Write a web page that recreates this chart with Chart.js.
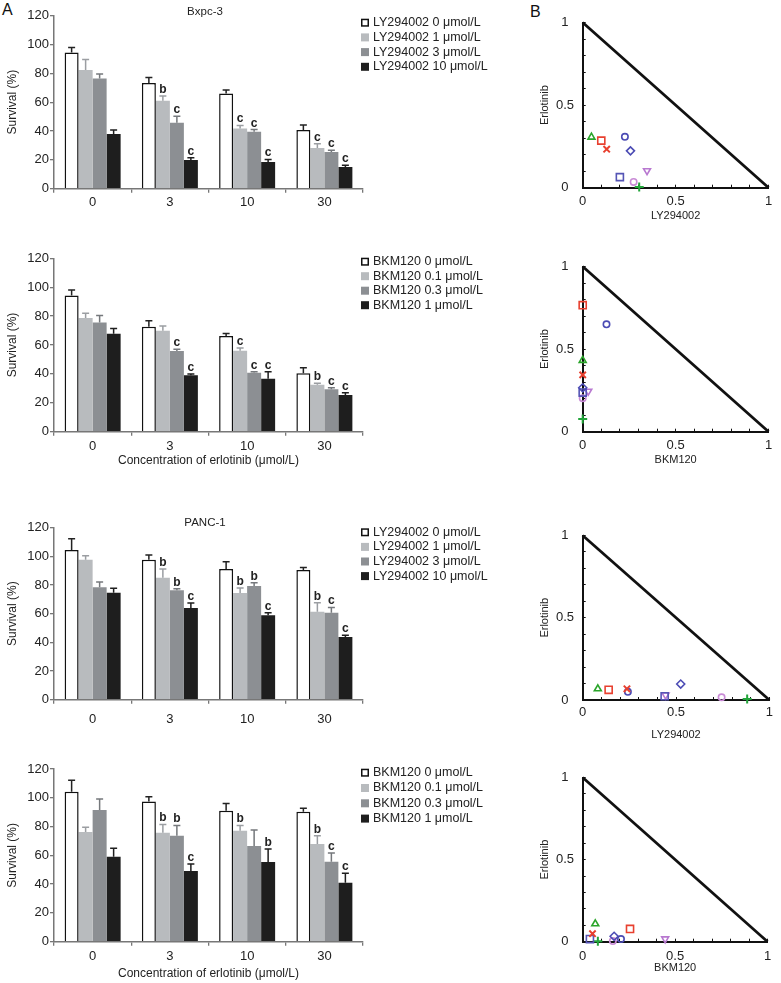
<!DOCTYPE html>
<html>
<head>
<meta charset="utf-8">
<title>Survival bars and isobolograms</title>
<script src="https://cdn.jsdelivr.net/npm/chart.js"></script>
<style>
  body { margin:0; background:#fff; width:781px; height:983px; position:relative; overflow:hidden;
         font-family:"Liberation Sans", Arial, sans-serif; }
  canvas { position:absolute; }
  .panel { position:absolute; font-size:16px; line-height:16px; color:#111; }
</style>
</head>
<body>
<div class="panel" style="left:2px;top:2px">A</div>
<div class="panel" style="left:530px;top:4px">B</div>
<script>
// --- DATA ---
const doses = ['0', '3', '10', '30'];   // erlotinib, μmol/L
const lyLabels = ['LY294002 0 μmol/L', 'LY294002 1 μmol/L', 'LY294002 3 μmol/L', 'LY294002 10 μmol/L'];
const bkmLabels = ['BKM120 0 μmol/L', 'BKM120 0.1 μmol/L', 'BKM120 0.3 μmol/L', 'BKM120 1 μmol/L'];

// survival (%), one row per inhibitor dose, columns follow doses
const bxpcLyMean = [[94.5, 73.3, 66.1, 40.7], [82.3, 61, 41.8, 28.2], [76.5, 45.8, 39.5, 25.4], [37.9, 19.9, 18.5, 15]];
const bxpcLyErr  = [[3.5, 3.9, 2.3, 3.5], [7.4, 3.3, 2.1, 3.0], [3.0, 4.4, 1.5, 1.2], [2.8, 1.6, 1.8, 1.2]];
const bxpcLySig  = [['', '', '', ''], ['', 'b', 'c', 'c'], ['', 'c', 'c', 'c'], ['', 'c', 'c', 'c']];

const bxpcBkmMean = [[94.2, 72.7, 66.2, 40.4], [78.7, 69.9, 56, 32.5], [75.5, 55.8, 40.8, 29.3], [67.8, 39, 36.7, 25.4]];
const bxpcBkmErr  = [[3.8, 4.1, 1.8, 3.9], [3.2, 3.3, 2, 1], [5, 1.2, 0.7, 1.2], [3.7, 1, 4.8, 1.6]];
const bxpcBkmSig  = [['', '', '', ''], ['', '', 'c', 'b'], ['', 'c', 'c', 'c'], ['', 'c', 'c', 'c']];

const pancLyMean = [[104.4, 97.7, 91.2, 90.5], [97.7, 85.1, 74.4, 61.4], [78.4, 76.3, 79.3, 60.7], [74.7, 64, 59, 43.7]];
const pancLyErr  = [[7.9, 3.2, 5.1, 1.8], [2.8, 6.1, 3.5, 6.3], [3.7, 1.1, 2.3, 3.7], [3, 3.4, 1.7, 1.2]];
const pancLySig  = [['', '', '', ''], ['', 'b', 'b', 'b'], ['', 'b', 'b', 'c'], ['', 'c', 'c', 'c']];

const pancBkmMean = [[104.2, 97.5, 91, 90.3], [76.2, 75.7, 77.1, 67.9], [91.5, 73.7, 66.5, 55.6], [59.1, 49.1, 55.4, 41]];
const pancBkmErr  = [[7.9, 3.3, 5.1, 2.4], [3.3, 5.8, 3.7, 5.8], [7.6, 7.1, 11.1, 6], [5.8, 4.9, 9, 6.5]];
const pancBkmSig  = [['', '', '', ''], ['', 'b', 'b', 'b'], ['', 'b', '', 'c'], ['', 'c', 'b', 'c']];

// isobolograms: one point per marker, same marker order in every panel
const isoStyles   = ['triangle', 'rect', 'crossRot', 'circle', 'rectRot', 'rect', 'circle', 'cross', 'triangle'];
const isoColors   = ['#2aa52a', '#e8402f', '#e8402f', '#4b4bb4', '#4b4bb4', '#5555b5', '#c98bd6', '#22a53a', '#b878d0'];
const isoRadius   = [4, 5, 4.5, 3.2, 4, 5, 3.2, 4.5, 4];
const isoRotation = [0, 0, 0, 0, 0, 0, 0, 0, 180];

const bxpcLyX  = [0.047, 0.10, 0.129, 0.227, 0.257, 0.20, 0.274, 0.304, 0.346];
const bxpcLyY  = [0.306, 0.285, 0.233, 0.308, 0.223, 0.064, 0.035, 0.004, 0.103];
const bxpcBkmX = [0, 0, 0, 0.128, 0, 0, 0, 0, 0.03];
const bxpcBkmY = [0.432, 0.766, 0.344, 0.65, 0.266, 0.237, 0.203, 0.077, 0.245];
const pancLyX  = [0.081, 0.139, 0.237, 0.242, 0.525, 0.439, 0.744, 0.881, 0.444];
const pancLyY  = [0.068, 0.062, 0.068, 0.05, 0.097, 0.023, 0.016, 0.006, 0.03];
const pancBkmX = [0.068, 0.256, 0.053, 0.207, 0.17, 0.039, 0.163, 0.082, 0.446];
const pancBkmY = [0.109, 0.078, 0.049, 0.016, 0.033, 0.016, 0.004, 0.002, 0.017];

const additivityX = [0, 1];
const additivityY = [1, 0];

// --- STYLE ---
Chart.defaults.font.family = '"Liberation Sans", Arial, sans-serif';
Chart.defaults.color = '#222';
Chart.defaults.animation = false;
Chart.defaults.plugins.legend.display = false;
Chart.defaults.plugins.tooltip.enabled = false;

const barFills = ['#ffffff', '#b8bbbe', '#8c8f93', '#1e1e1e'];
const errColors = ['#222222', '#9b9ea2', '#75787c', '#1e1e1e'];

function addCanvas(left, top, w, h) {
  const c = document.createElement('canvas');
  c.width = w; c.height = Math.ceil(h);
  c.style.left = left + 'px'; c.style.top = top + 'px';
  document.body.appendChild(c);
  return c;
}

// error bars, significance letters, legend and panel title
const barExtras = {
  id: 'barExtras',
  afterDatasetsDraw(chart, args, o) {
    const ctx = chart.ctx, y = chart.scales.y;
    ctx.save();
    chart.data.datasets.forEach((ds, i) => {
      chart.getDatasetMeta(i).data.forEach((bar, j) => {
        const top = y.getPixelForValue(ds.data[j] + o.err[i][j]);
        ctx.strokeStyle = errColors[i];
        ctx.lineWidth = 1.5;
        ctx.beginPath();
        ctx.moveTo(bar.x, bar.y); ctx.lineTo(bar.x, top);
        ctx.moveTo(bar.x - 3.5, top); ctx.lineTo(bar.x + 3.5, top);
        ctx.stroke();
        if (o.sig[i][j]) {
          ctx.fillStyle = '#222';
          ctx.font = 'bold 12px "Liberation Sans", Arial, sans-serif';
          ctx.textAlign = 'center';
          ctx.textBaseline = 'alphabetic';
          ctx.fillText(o.sig[i][j], bar.x, top - 3);
        }
      });
    });
    // legend
    ctx.font = '12.5px "Liberation Sans", Arial, sans-serif';
    ctx.textAlign = 'left';
    ctx.textBaseline = 'middle';
    chart.data.datasets.forEach((ds, i) => {
      const cy = o.legendY + i * o.legendStep;
      ctx.fillStyle = ds.backgroundColor;
      ctx.fillRect(361, cy - 4, 8, 8);
      if (i === 0) { ctx.strokeStyle = '#111'; ctx.lineWidth = 1.5; ctx.strokeRect(361.75, cy - 3.25, 6.5, 6.5); }
      ctx.fillStyle = '#222';
      ctx.fillText(ds.label, 373, cy);
    });
    if (o.title) {
      ctx.font = '11.5px "Liberation Sans", Arial, sans-serif';
      ctx.textAlign = 'center';
      ctx.fillText(o.title, 205, o.titleY);
    }
    ctx.restore();
  }
};

function makeBar(f, labels, mean, err, sig) {
  const axisH = 40;
  const h = f.areaBottom - f.top + axisH;
  const canvas = addCanvas(0, f.top, 520, h);
  const padBottom = canvas.height - h;
  new Chart(canvas, {
    type: 'bar',
    data: {
      labels: doses,
      datasets: labels.map((lab, i) => ({
        label: lab,
        data: mean[i],
        backgroundColor: barFills[i],
        borderColor: '#111',
        borderWidth: i === 0 ? 1.5 : 0,
        categoryPercentage: 0.725,
        barPercentage: 1
      }))
    },
    options: {
      responsive: false,
      devicePixelRatio: 1,
      layout: { padding: { left: 0, right: 157, top: f.areaTop - f.top, bottom: padBottom } },
      scales: {
        x: {
          afterFit: s => { s.height = axisH; },
          border: { color: '#777', width: 1.5 },
          grid: { drawOnChartArea: false, offset: true, tickLength: 4, color: '#777', lineWidth: 1.3 },
          ticks: { font: { size: 13 }, padding: f.tickPad, maxRotation: 0 },
          title: { display: !!f.xTitle, text: f.xTitle || '', font: { size: 12 },
                   padding: { top: 0, bottom: axisH - 7.2 - (f.xTitleGap || 0) } }
        },
        y: {
          min: 0, max: 120,
          afterFit: s => { s.width = 54; },
          border: { color: '#777', width: 1.5 },
          grid: { drawOnChartArea: false, tickLength: 4, color: '#777', lineWidth: 1.3 },
          ticks: { stepSize: 20, font: { size: 13 }, padding: 1 },
          title: { display: true, text: 'Survival (%)', font: { size: 12 }, padding: { top: 5.8, bottom: 0 } }
        }
      },
      plugins: {
        barExtras: { err: err, sig: sig, title: f.title, titleY: f.titleY - f.top,
                     legendY: f.legendY - f.top, legendStep: f.legendStep }
      }
    },
    plugins: [barExtras]
  });
}

function isoTick(v) {
  if (Math.abs(v) < 1e-6) return '0';
  if (Math.abs(v - 0.5) < 1e-6) return '0.5';
  if (Math.abs(v - 1) < 1e-6) return '1';
  return '';
}

function makeIso(f, xTitle, xs, ys) {
  const axisH = 44;
  const h = f.areaBottom - f.top + axisH;
  const canvas = addCanvas(520, f.top, 261, h);
  const padBottom = canvas.height - h;
  const sets = isoStyles.map((st, k) => ({
    type: 'scatter',
    data: [{ x: xs[k], y: ys[k] }],
    pointStyle: st,
    pointRadius: isoRadius[k],
    pointRotation: isoRotation[k],
    pointBorderColor: isoColors[k],
    pointBackgroundColor: 'rgba(0,0,0,0)',
    pointBorderWidth: st === 'cross' || st === 'crossRot' ? 2 : 1.6,
    clip: false
  }));
  sets.push({
    type: 'line',
    data: additivityX.map((x, i) => ({ x: x, y: additivityY[i] })),
    borderColor: '#111', borderWidth: 2.8, pointRadius: 0, order: 10, clip: false
  });
  new Chart(canvas, {
    type: 'scatter',
    data: { datasets: sets },
    options: {
      responsive: false,
      devicePixelRatio: 1,
      layout: { padding: { left: 0, right: 261 - 253.3, top: f.areaTop - f.top, bottom: padBottom } },
      scales: {
        x: {
          type: 'linear', min: 0, max: 1,
          afterFit: s => { s.height = axisH; },
          border: { color: '#111', width: 2 },
          grid: { drawOnChartArea: false, tickLength: -3, color: '#111', lineWidth: 1 },
          ticks: { stepSize: 0.1, autoSkip: false, maxRotation: 0, padding: f.tickPad, font: { size: 13 }, callback: isoTick },
          title: { display: true, text: xTitle, font: { size: 11 }, padding: { top: 0, bottom: axisH - 6.6 - f.xTitleGap } }
        },
        y: {
          type: 'linear', min: 0, max: 1,
          afterFit: s => { s.width = 62.7; },
          border: { color: '#111', width: 2 },
          grid: { drawOnChartArea: false, tickLength: -3, color: '#111', lineWidth: 1 },
          ticks: { stepSize: 0.1, autoSkip: false, crossAlign: 'center', padding: 11.7, font: { size: 13 }, callback: isoTick },
          title: { display: true, text: 'Erlotinib', font: { size: 11 }, padding: { top: 18.4, bottom: 0 } }
        }
      }
    }
  });
}

// --- PANELS ---
makeBar({ top: 0, areaTop: 15.7, areaBottom: 188.7, tickPad: 2.1, title: 'Bxpc-3', titleY: 12,
          legendY: 22.7, legendStep: 14.7 }, lyLabels, bxpcLyMean, bxpcLyErr, bxpcLySig);
makeBar({ top: 244, areaTop: 258.3, areaBottom: 431.7, tickPad: 2.8, legendY: 261.7, legendStep: 14.5,
          xTitle: 'Concentration of erlotinib (μmol/L)', xTitleGap: 29.3 }, bkmLabels, bxpcBkmMean, bxpcBkmErr, bxpcBkmSig);
makeBar({ top: 514, areaTop: 527.7, areaBottom: 699.7, tickPad: 7.5, title: 'PANC-1', titleY: 522.5,
          legendY: 532.3, legendStep: 14.6 }, lyLabels, pancLyMean, pancLyErr, pancLySig);
makeBar({ top: 756, areaTop: 769, areaBottom: 941.7, tickPad: 2.8, legendY: 772.7, legendStep: 15.3,
          xTitle: 'Concentration of erlotinib (μmol/L)', xTitleGap: 31.6 }, bkmLabels, pancBkmMean, pancBkmErr, pancBkmSig);

makeIso({ top: 3, areaTop: 15.7, areaBottom: 187.7, tickPad: 8.8, xTitleGap: 28.3 }, 'LY294002', bxpcLyX, bxpcLyY);
makeIso({ top: 247, areaTop: 259, areaBottom: 431.7, tickPad: 8.8, xTitleGap: 28.3 }, 'BKM120', bxpcBkmX, bxpcBkmY);
makeIso({ top: 516, areaTop: 528.3, areaBottom: 700, tickPad: 8, xTitleGap: 35 }, 'LY294002', pancLyX, pancLyY);
makeIso({ top: 758, areaTop: 770, areaBottom: 941.7, tickPad: 9.8, xTitleGap: 26.6 }, 'BKM120', pancBkmX, pancBkmY);
</script>
</body>
</html>
